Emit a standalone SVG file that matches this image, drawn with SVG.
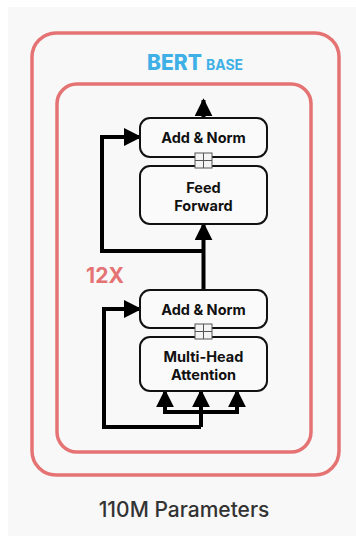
<svg xmlns="http://www.w3.org/2000/svg" width="356" height="536" viewBox="0 0 356 536">
  <defs>
    <style>
      .frame { fill: none; stroke: #e57373; stroke-width: 3.5; }
      .box { fill: #fafafa; stroke: #111; stroke-width: 2; }
      .lbl { font-family: Inter, "Noto Sans", sans-serif; font-weight: 700; font-size: 14.5px; fill: #111; text-anchor: middle; }
      .wire { fill: none; stroke: #000; stroke-width: 4; stroke-linejoin: miter; }
      .plus { fill: #f4f4f4; stroke: #555; stroke-width: 1; }
    </style>
    <marker id="head" viewBox="0 0 10 10" refX="9" refY="5" markerWidth="4.5" markerHeight="4.5" orient="auto" markerUnits="strokeWidth">
      <path d="M0,0 L10,5 L0,10 Z" fill="#000"/>
    </marker>
  </defs>

  <rect x="8" y="7" width="348" height="529" fill="#f8f8f8"/>

  <!-- outer and inner frames -->
  <rect class="frame" x="32" y="33" width="307" height="442" rx="24"/>
  <rect class="frame" x="57" y="84" width="254" height="368" rx="20"/>

  <text x="147" y="70" font-family="Inter, 'Noto Sans', sans-serif" font-weight="800" font-size="21" fill="#3fb0e6">BERT<tspan font-size="14" font-weight="700" dx="4">BASE</tspan></text>
  <text x="105" y="283" font-family="Inter, 'Noto Sans', sans-serif" font-weight="700" font-size="21" fill="#e57373" text-anchor="middle">12X</text>

  <!-- connectors -->
  <g id="connectors">
    <line class="wire" x1="203.5" y1="118" x2="203.5" y2="100" marker-end="url(#head)"/>
    <polyline class="wire" points="203.5,251 102,251 102,137 140,137" marker-end="url(#head)"/>
    <line class="wire" x1="203.5" y1="290" x2="203.5" y2="224" marker-end="url(#head)"/>
    <polyline class="wire" points="201,427 104,427 104,309 140,309" marker-end="url(#head)"/>
    <line class="wire" x1="201" y1="427" x2="201" y2="391" marker-end="url(#head)"/>
    <polyline class="wire" points="165,391 165,412 237,412 237,391" />
    <line class="wire" x1="165" y1="408" x2="165" y2="391" marker-end="url(#head)"/>
    <line class="wire" x1="237" y1="408" x2="237" y2="391" marker-end="url(#head)"/>
  </g>

  <g id="addnorm2">
    <rect class="box" x="140" y="118" width="127" height="39" rx="10"/>
    <text class="lbl" x="203.5" y="143">Add &amp; Norm</text>
  </g>
  <g id="feedforward">
    <rect class="box" x="140" y="166" width="127" height="58" rx="10"/>
    <text class="lbl" x="203.5" y="192.5">Feed</text>
    <text class="lbl" x="203.5" y="210.5">Forward</text>
  </g>
  <g id="plus2">
    <rect class="plus" x="195" y="153" width="17" height="15"/>
    <path d="M203.5,153 V168 M195,160.5 H212" stroke="#555" stroke-width="1"/>
  </g>

  <g id="addnorm1">
    <rect class="box" x="140" y="290" width="127" height="38" rx="10"/>
    <text class="lbl" x="203.5" y="315">Add &amp; Norm</text>
  </g>
  <g id="attention">
    <rect class="box" x="140" y="337" width="127" height="54" rx="10"/>
    <text class="lbl" x="203.5" y="361.5">Multi-Head</text>
    <text class="lbl" x="203.5" y="379.5">Attention</text>
  </g>
  <g id="plus1">
    <rect class="plus" x="195" y="324" width="17" height="15"/>
    <path d="M203.5,324 V339 M195,331.5 H212" stroke="#555" stroke-width="1"/>
  </g>

  <text x="184" y="517" font-family="Inter, 'Noto Sans', sans-serif" font-weight="500" font-size="21" fill="#333" text-anchor="middle">110M Parameters</text>
</svg>
